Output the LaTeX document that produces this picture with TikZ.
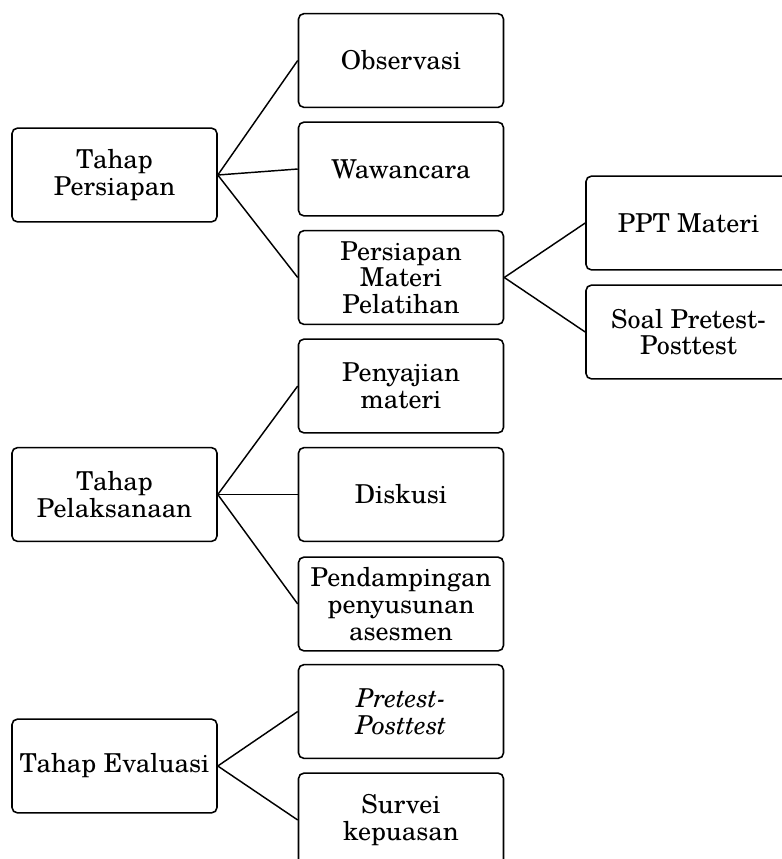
\documentclass[tikz,border=0pt]{standalone}
\usepackage{fontspec}
\setmainfont{texgyreschola-regular.otf}[ItalicFont=texgyreschola-italic.otf]
\begin{document}
\begin{tikzpicture}[x=0.48pt, y=-0.48pt,
  box/.style={draw, line width=0.75pt, rounded corners=2.6pt, minimum width=98.4pt,
    minimum height=45pt, inner sep=1pt, align=center, font=\fontsize{12.5}{12.8}\selectfont},
  link/.style={line width=0.7pt}]
\useasboundingbox (0,0) rectangle (781,859);
% Tahap Persiapan
\node[box] (persiapan) at (114.5,175) {Tahap\\Persiapan};
\node[box] (observasi) at (401,60.5) {Observasi};
\node[box] (wawancara) at (401,169) {Wawancara};
\node[box] (materi) at (401,277.5) {Persiapan\\Materi\\Pelatihan};
\node[box] (ppt) at (688.5,223) {PPT Materi};
\node[box] (soal) at (688.5,332) {Soal Pretest-\\Posttest};
\draw[link] (persiapan.east) -- (observasi.west);
\draw[link] (persiapan.east) -- (wawancara.west);
\draw[link] (persiapan.east) -- (materi.west);
\draw[link] (materi.east) -- (ppt.west);
\draw[link] (materi.east) -- (soal.west);
% Tahap Pelaksanaan
\node[box] (pelaksanaan) at (114.5,494.5) {Tahap\\Pelaksanaan};
\node[box] (penyajian) at (401,386) {Penyajian\\materi};
\node[box] (diskusi) at (401,494.5) {Diskusi};
\node[box] (pendampingan) at (401,604) {Pendampingan\\penyusunan\\asesmen};
\draw[link] (pelaksanaan.east) -- (penyajian.west);
\draw[link] (pelaksanaan.east) -- (diskusi.west);
\draw[link] (pelaksanaan.east) -- (pendampingan.west);
% Tahap Evaluasi
\node[box] (evaluasi) at (114.5,766) {Tahap Evaluasi};
\node[box] (pretest) at (401,711.5) {\textit{Pretest-}\\\textit{Posttest}};
\node[box] (survei) at (401,820) {Survei\\kepuasan};
\draw[link] (evaluasi.east) -- (pretest.west);
\draw[link] (evaluasi.east) -- (survei.west);
\end{tikzpicture}
\end{document}
